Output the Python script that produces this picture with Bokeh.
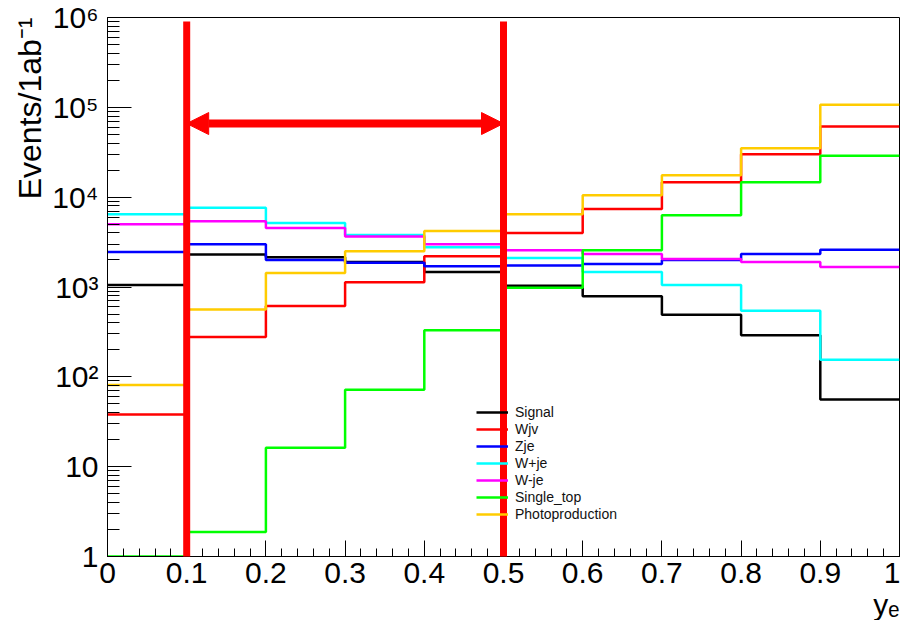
import math
from bokeh.plotting import figure
from bokeh.models import FixedTicker, Legend, LegendItem, Arrow, NormalHead, Title
from bokeh.embed import file_html
from bokeh.resources import INLINE

# ---------------- data ----------------
bin_edges = [0.0, 0.1, 0.2, 0.3, 0.4, 0.5, 0.6, 0.7, 0.8, 0.9, 1.0]

signal = [1050, 2300, 2150, 1900, 1470, 1030, 790, 490, 290, 56]
wjv = [38, 278, 615, 1130, 2200, 3980, 7400, 14700, 30000, 61000]
zje = [2450, 3000, 2000, 1860, 1700, 1740, 1800, 2000, 2330, 2600]
w_plus_je = [6450, 7600, 5150, 3800, 2770, 2100, 1470, 1050, 545, 155]
w_minus_je = [5000, 5400, 4540, 3650, 3000, 2570, 2330, 2050, 1900, 1670]
single_top = [1.0, 1.87, 16.2, 72, 330, 980, 2570, 6300, 14700, 29000]
photoproduction = [81, 560, 1430, 2500, 4200, 6450, 10500, 17500, 35000, 107000]

series_names = ["Signal", "Wjv", "Zje", "W+je", "W-je", "Single_top", "Photoproduction"]
series_values = [signal, wjv, zje, w_plus_je, w_minus_je, single_top, photoproduction]
series_colors = ["#000000", "#ff0000", "#0000ff", "#00ffff", "#ff00ff", "#00ff00", "#ffcc00"]

cut_values = [0.1, 0.5]
cut_line_top = 9.0e5
arrow_level = 6.6e4

x_ticks = [0.0, 0.1, 0.2, 0.3, 0.4, 0.5, 0.6, 0.7, 0.8, 0.9, 1.0]
x_tick_labels = ["0", "0.1", "0.2", "0.3", "0.4", "0.5", "0.6", "0.7", "0.8", "0.9", "1"]
y_ticks = [1, 10, 100, 1000, 10000, 100000, 1000000]
y_tick_labels = ["1", "10", "10\u00b2", "10\u00b3", "10\u2074", "10\u2075", "10\u2076"]

y_title = "Events/1ab\u207b\u00b9"
x_title = "y\u2091"

FONT = "Liberation Sans"

# ---------------- figure ----------------
p = figure(width=900, height=620, y_axis_type="log",
           x_range=(0, 1), y_range=(1, 1e6),
           output_backend="svg", toolbar_location=None,
           min_border_left=107, min_border_right=1,
           min_border_top=17, min_border_bottom=0)
p.xgrid.visible = False
p.ygrid.visible = False
p.outline_line_color = "black"
p.outline_line_width = 1
p.background_fill_color = "white"
p.border_fill_color = "white"

# x axis
x_minor = [round(i * 0.02, 2) for i in range(51)]
p.xaxis.ticker = FixedTicker(ticks=x_ticks, minor_ticks=x_minor)
p.xaxis.major_label_overrides = {float(t): l for t, l in zip(x_ticks, x_tick_labels)}
p.xaxis.major_tick_in = 16
p.xaxis.major_tick_out = 0
p.xaxis.minor_tick_in = 8
p.xaxis.minor_tick_out = 0
p.xaxis.major_label_text_font = FONT
p.xaxis.major_label_text_font_size = "30px"
p.xaxis.major_label_text_color = "black"
p.xaxis.major_label_standoff = 6
p.xaxis.axis_line_color = "black"

# y axis
y_minor = [m * 10 ** k for k in range(6) for m in range(2, 10)]
p.yaxis.ticker = FixedTicker(ticks=y_ticks, minor_ticks=y_minor)
p.yaxis.major_label_overrides = {t: l for t, l in zip(y_ticks, y_tick_labels)}
p.yaxis.major_tick_in = 24
p.yaxis.major_tick_out = 0
p.yaxis.minor_tick_in = 12
p.yaxis.minor_tick_out = 0
p.yaxis.major_label_text_font = FONT
p.yaxis.major_label_text_font_size = "30px"
p.yaxis.major_label_text_color = "black"
p.yaxis.major_label_standoff = 9
p.yaxis.axis_line_color = "black"

# axis titles (ROOT style: at the far ends of the axes)
p.add_layout(Title(text=y_title, align="right", text_font=FONT,
                   text_font_size="32px", text_font_style="normal",
                   text_color="black", standoff=4), "left")
p.add_layout(Title(text=x_title, align="right", text_font=FONT,
                   text_font_size="30px", text_font_style="normal",
                   text_color="black", standoff=0), "below")

# ---------------- histograms ----------------
items = []
for name, vals, col in zip(series_names, series_values, series_colors):
    xs = list(bin_edges)
    ys = list(vals) + [vals[-1]]
    r = p.step(xs, ys, mode="after", line_color=col, line_width=2.5)
    items.append(LegendItem(label=name, renderers=[r]))

legend = Legend(items=items, location=(369, 34))
legend.border_line_color = None
legend.background_fill_alpha = 0
legend.padding = 0
legend.margin = 0
legend.spacing = 1
legend.glyph_height = 16
legend.glyph_width = 32
legend.label_height = 16
legend.label_standoff = 7
legend.label_text_font = FONT
legend.label_text_font_size = "14px"
legend.label_text_color = "#111111"
p.add_layout(legend, "center")

# ---------------- cut lines and arrow ----------------
arrow = Arrow(start=NormalHead(size=22, fill_color="red", line_color="red"),
              end=NormalHead(size=22, fill_color="red", line_color="red"),
              x_start=cut_values[0], y_start=arrow_level,
              x_end=cut_values[1], y_end=arrow_level,
              line_color="red", line_width=8)
p.add_layout(arrow)

p.segment(x0=cut_values, y0=[y_ticks[0]] * len(cut_values),
          x1=cut_values, y1=[cut_line_top] * len(cut_values),
          line_color="red", line_width=7, level="overlay")

open("out.html", "w").write(file_html(p, INLINE))
